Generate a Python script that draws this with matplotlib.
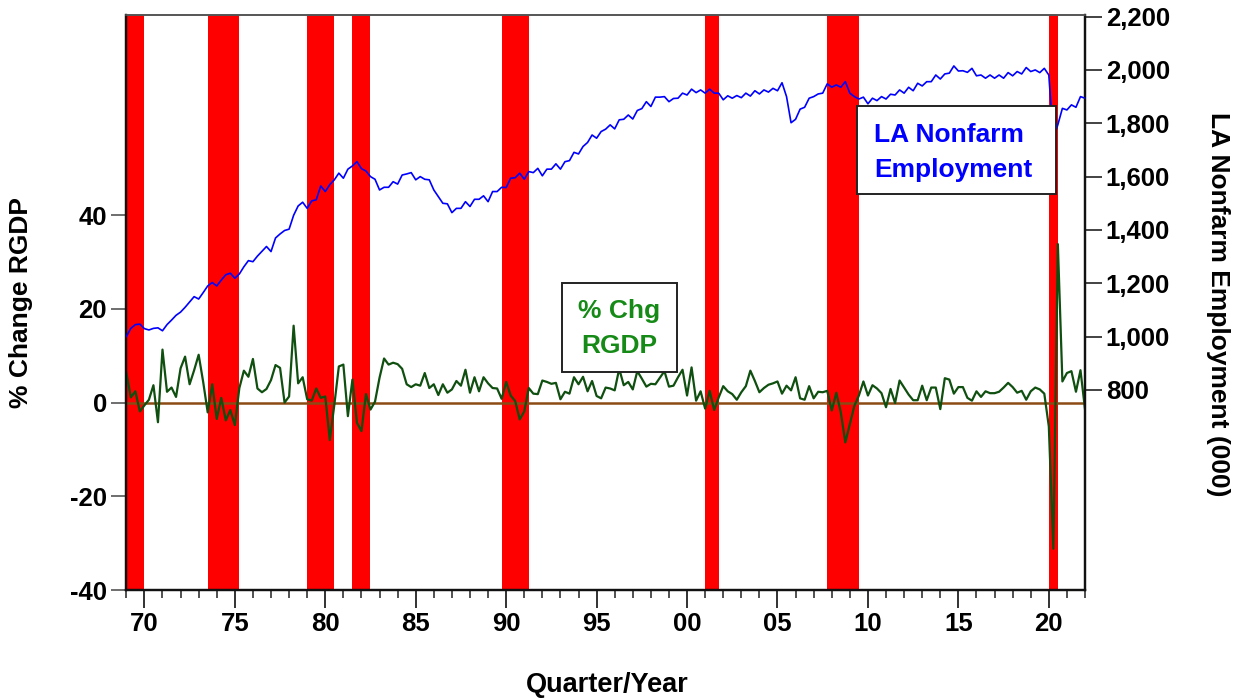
import numpy as np
import matplotlib
matplotlib.use("Agg")
import matplotlib.pyplot as plt
from matplotlib.patches import Rectangle

plt.rcParams['font.family'] = ['Liberation Sans', 'DejaVu Sans']
plt.rcParams['font.weight'] = 'bold'

# quarterly data, 1969Q1 .. 2022Q1
start_year = 1969
gdp_chg = [
    6.4, 1.1, 2.4, -1.9,     # 1969
    -0.6, 0.6, 3.7, -4.2,    # 1970
    11.3, 2.3, 3.2, 1.2,
    7.3, 9.8, 3.9, 6.9,
    10.2, 4.4, -2.1, 3.9,
    -3.5, 1.0, -3.8, -1.6,
    -4.8, 3.1, 6.8, 5.5,     # 1975
    9.3, 3.0, 2.2, 2.9,
    4.8, 8.0, 7.4, 0.0,
    1.3, 16.4, 4.1, 5.4,
    0.7, 0.4, 3.0, 1.0,
    1.3, -8.0, -0.5, 7.7,    # 1980
    8.1, -2.9, 4.9, -4.3,
    -6.1, 1.8, -1.5, 0.2,
    5.3, 9.4, 8.1, 8.5,
    8.2, 7.2, 3.9, 3.3,
    3.9, 3.6, 6.3, 3.1,      # 1985
    3.9, 1.6, 3.9, 2.1,
    2.8, 4.6, 3.6, 7.0,
    2.1, 5.4, 2.4, 5.4,
    4.1, 3.1, 3.0, 0.8,
    4.4, 1.5, 0.3, -3.6,     # 1990
    -1.9, 3.1, 1.9, 1.8,
    4.7, 4.4, 4.0, 4.2,
    0.7, 2.3, 1.9, 5.4,
    3.9, 5.5, 2.4, 4.6,
    1.4, 0.9, 3.2, 3.0,      # 1995
    2.6, 7.2, 3.7, 4.4,
    2.8, 6.7, 5.1, 3.4,
    4.0, 3.9, 5.3, 6.7,
    3.4, 3.6, 5.4, 7.0,
    1.5, 7.5, 0.4, 2.4,      # 2000
    -1.3, 2.5, -1.6, 1.1,
    3.5, 2.4, 1.8, 0.6,
    2.2, 3.5, 6.8, 4.6,
    2.2, 3.1, 3.8, 4.1,
    4.5, 1.9, 3.6, 2.6,      # 2005
    5.4, 0.9, 0.6, 3.5,
    0.9, 2.3, 2.2, 2.5,
    -1.7, 2.1, -2.1, -8.5,
    -4.6, -0.7, 1.5, 4.5,
    1.5, 3.7, 3.0, 2.0,      # 2010
    -1.0, 2.9, -0.1, 4.7,
    3.2, 1.7, 0.5, 0.5,
    3.6, 0.5, 3.2, 3.2,
    -1.4, 5.2, 4.9, 1.9,
    3.3, 3.3, 1.0, 0.4,      # 2015
    2.4, 1.2, 2.4, 2.0,
    2.0, 2.3, 3.2, 4.2,
    3.3, 2.1, 2.5, 0.6,
    2.4, 3.2, 2.8, 1.9,
    -5.1, -31.2, 33.8, 4.5,  # 2020
    6.3, 6.7, 2.3, 6.9,
    -1.4,                    # 2022
]

la_emp = [
    1000, 1031, 1045, 1047,  # 1969
    1030, 1025, 1031, 1033,
    1022, 1045, 1062, 1080,
    1092, 1110, 1130, 1150,
    1141, 1165, 1190, 1203,
    1190, 1212, 1232, 1238,
    1219, 1235, 1262, 1285,  # 1975
    1281, 1302, 1320, 1338,
    1319, 1370, 1385, 1398,
    1403, 1455, 1490, 1504,
    1481, 1509, 1513, 1565,
    1544, 1570, 1588, 1613,  # 1980
    1594, 1628, 1640, 1656,
    1630, 1621, 1600, 1590,
    1550, 1560, 1560, 1581,
    1572, 1606, 1610, 1615,
    1588, 1600, 1590, 1588,  # 1985
    1550, 1525, 1500, 1498,
    1465, 1481, 1481, 1506,
    1488, 1515, 1515, 1528,
    1506, 1544, 1544, 1560,
    1559, 1594, 1596, 1613,  # 1990
    1590, 1619, 1615, 1631,
    1603, 1628, 1628, 1648,
    1628, 1656, 1660, 1691,
    1685, 1713, 1728, 1756,
    1744, 1769, 1778, 1794,  # 1995
    1779, 1813, 1815, 1831,
    1816, 1848, 1855, 1881,
    1863, 1898, 1898, 1900,
    1881, 1893, 1894, 1913,
    1906, 1928, 1915, 1925,  # 2000
    1913, 1928, 1913, 1913,
    1888, 1903, 1894, 1904,
    1896, 1913, 1902, 1922,
    1910, 1925, 1917, 1931,
    1922, 1952, 1900, 1802,  # 2005
    1815, 1853, 1860, 1894,
    1900, 1910, 1913, 1948,
    1935, 1944, 1935, 1956,
    1913, 1900, 1891, 1898,
    1873, 1894, 1885, 1900,  # 2010
    1891, 1909, 1906, 1925,
    1913, 1935, 1922, 1950,
    1940, 1956, 1956, 1981,
    1966, 1985, 1988, 2015,
    1996, 1997, 1991, 2006,  # 2015
    1978, 1981, 1969, 1981,
    1969, 1981, 1969, 1990,
    1978, 1994, 1985, 2009,
    1994, 2000, 1990, 2006,
    1981, 1740, 1795, 1856,  # 2020
    1850, 1869, 1860, 1900,
    1894,
]

# shaded recession periods (start, end) in years
rec_start = [1969.0, 1973.5, 1979.0, 1981.5, 1989.75, 2001.0, 2007.75, 2020.0]
rec_end = [1970.0, 1975.25, 1980.5, 1982.5, 1991.25, 2001.75, 2009.5, 2020.5]

year_ticks = [1970, 1975, 1980, 1985, 1990, 1995, 2000, 2005, 2010, 2015, 2020]
year_labels = ['70', '75', '80', '85', '90', '95', '00', '05', '10', '15', '20']
left_ticks = [-40, -20, 0, 20, 40]
right_ticks = [800, 1000, 1200, 1400, 1600, 1800, 2000, 2200]

quarters = start_year + 0.25 * np.arange(len(gdp_chg))
quarters_emp = start_year + 0.25 * np.arange(len(la_emp))

W, H = 1233, 698
fig = plt.figure(figsize=(W / 100, H / 100), dpi=100)
ax = fig.add_axes([126.3 / W, 1 - 590 / H, (1085 - 126.3) / W, (590 - 15) / H])
ax2 = ax.twinx()

for s, e in zip(rec_start, rec_end):
    ax.axvspan(s, e, color='#ff0000', lw=0, zorder=1)

ax.axhline(0, color='#8c4a14', lw=1.8, zorder=2)
ax.plot(quarters, gdp_chg, color='#0f4f0f', lw=1.6, zorder=3)
ax2.plot(quarters_emp, la_emp, color='#0000ff', lw=1.2, zorder=3)

ax.set_xlim(1969, 2022)
ax.set_ylim(-40, 82.7)
ax2.set_ylim(50, 2206)

ax.set_xticks(year_ticks)
ax.set_xticklabels(year_labels)
ax.set_xticks(np.arange(1969, 2023), minor=True)
ax.set_yticks(left_ticks)
ax.set_yticklabels([str(v) for v in left_ticks])
ax2.set_yticks(right_ticks)
ax2.set_yticklabels([f"{v:,}" for v in right_ticks])

ax.tick_params(axis='x', which='major', length=13, width=1.3, pad=3, labelsize=18.5, color='#222222')
ax.tick_params(axis='x', which='minor', length=6, width=1.1, color='#222222')
ax.tick_params(axis='y', length=11, width=1.2, pad=3, labelsize=18.5, color='#555555')
ax2.tick_params(axis='y', length=12, width=1.2, pad=3, labelsize=18.5, color='#222222')

for a in (ax, ax2):
    for sp in a.spines.values():
        sp.set_linewidth(1.6)
        sp.set_color('#111111')
ax.spines['top'].set_color('#555555')
ax.spines['top'].set_linewidth(1.2)
ax2.spines['top'].set_color('#555555')
ax2.spines['top'].set_linewidth(1.2)

fig.text(21 / W, 1 - 303 / H, '% Change RGDP', rotation=90, ha='center', va='center',
         fontsize=19, fontweight='bold')
fig.text(1218 / W, 1 - 304 / H, 'LA Nonfarm Employment (000)', rotation=-90, ha='center',
         va='center', fontsize=19, fontweight='bold')
fig.text(607 / W, 1 - 692 / H, 'Quarter/Year', ha='center', va='baseline',
         fontsize=19.5, fontweight='bold')

# label boxes
box1 = Rectangle((561.7 / W, 1 - 372.3 / H), (677.3 - 561.7) / W, (372.3 - 282.7) / H,
                 transform=fig.transFigure, facecolor='white', edgecolor='#222222',
                 lw=1.4, zorder=10, clip_on=False)
ax2.add_patch(box1)
ax2.text(619.5 / W, 1 - 318 / H, '% Chg', transform=fig.transFigure, ha='center',
         va='baseline', fontsize=19, fontweight='bold', color='#168a16', zorder=11)
ax2.text(619.5 / W, 1 - 353 / H, 'RGDP', transform=fig.transFigure, ha='center',
         va='baseline', fontsize=19, fontweight='bold', color='#168a16', zorder=11)

box2 = Rectangle((856.7 / W, 1 - 194.3 / H), (1056 - 856.7) / W, (194.3 - 106) / H,
                 transform=fig.transFigure, facecolor='white', edgecolor='#222222',
                 lw=1.4, zorder=10, clip_on=False)
ax2.add_patch(box2)
ax2.text(874 / W, 1 - 141.7 / H, 'LA Nonfarm', transform=fig.transFigure, ha='left',
         va='baseline', fontsize=19, fontweight='bold', color='#0000ff', zorder=11)
ax2.text(874 / W, 1 - 177 / H, 'Employment', transform=fig.transFigure, ha='left',
         va='baseline', fontsize=19, fontweight='bold', color='#0000ff', zorder=11)

fig.savefig('out.png', dpi=100)
